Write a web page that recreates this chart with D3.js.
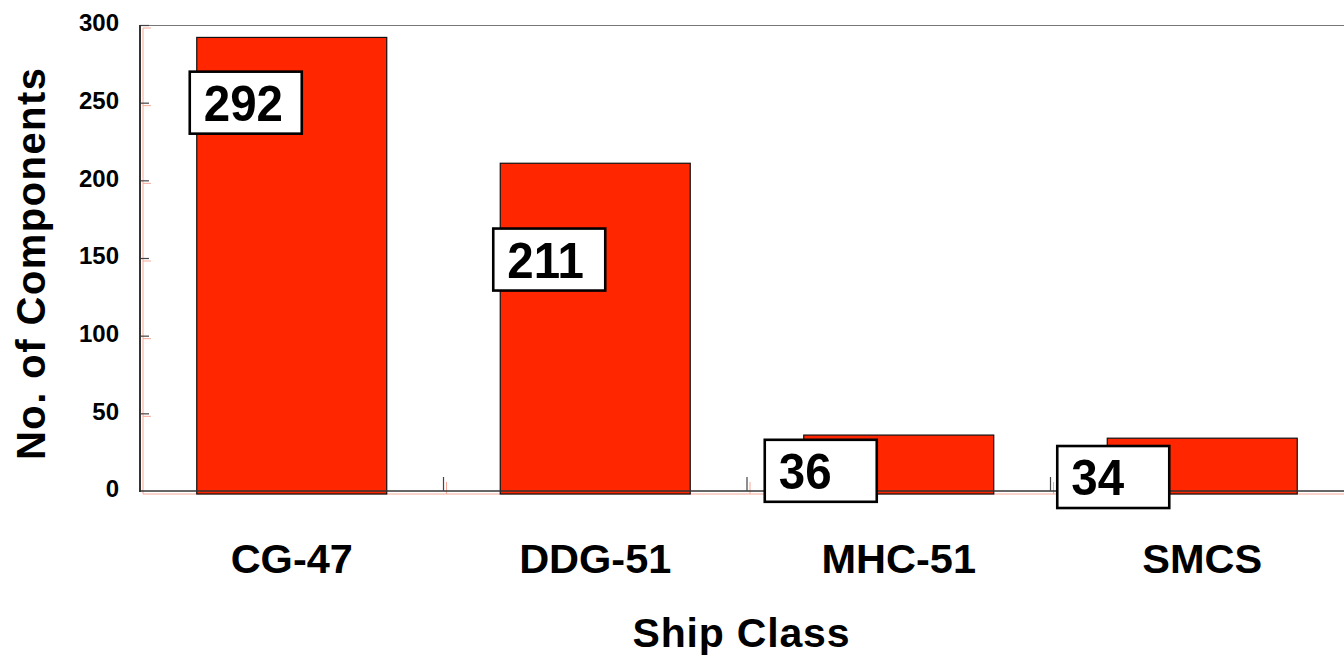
<!DOCTYPE html>
<html>
<head>
<meta charset="utf-8">
<script src="https://cdn.jsdelivr.net/npm/d3@7/dist/d3.min.js"></script>
<style>
  html, body { margin: 0; padding: 0; background: #fff; }
  svg { display: block; font-family: Arial, "Liberation Sans", Helvetica, sans-serif; }
</style>
</head>
<body>
<svg id="chart" width="1344" height="659"></svg>
<script>
// Components per ship class
const categories = ["CG-47", "DDG-51", "MHC-51", "SMCS"];
const components = [292, 211, 36, 34];
const yTicks = [0, 50, 100, 150, 200, 250, 300];
const xTitle = "Ship Class";
const yTitle = "No. of Components";

// Callout boxes: horizontal shift from the bar's left edge (px) and vertical centre (data units)
const calloutShift = [-7, -7, -39, -50];
const calloutAt = [250, 149, 13, 9];

const W = 1344, H = 659;
const plot = { left: 140, top: 25, bottom: 491, right: 1354 };
const barFill = "#ff2600";
const shadow = "#f6a898";

const svg = d3.select("#chart");

const x = d3.scaleBand()
  .domain(categories)
  .range([plot.left, plot.right])
  .paddingInner(0.374)
  .paddingOuter(0.187);

const y = d3.scaleLinear()
  .domain([0, 300])
  .range([plot.bottom, plot.top]);

// Pale offset copy of the frame (drop shadow of the axes)
const sh = svg.append("g").attr("transform", "translate(3,3)")
  .attr("stroke", shadow).attr("stroke-width", 1).attr("fill", "none");
sh.append("line").attr("x1", plot.left).attr("x2", plot.left)
  .attr("y1", plot.top).attr("y2", plot.bottom);
sh.append("line").attr("x1", plot.left).attr("x2", W)
  .attr("y1", plot.bottom).attr("y2", plot.bottom);
sh.selectAll("line.yt").data(yTicks.slice(1)).join("line").attr("class", "yt")
  .attr("x1", plot.left).attr("x2", plot.left + 8)
  .attr("y1", d => y(d)).attr("y2", d => y(d));
sh.selectAll("line.xt").data(categories.slice(1)).join("line").attr("class", "xt")
  .attr("x1", d => x(d) - x.step() * x.paddingInner() / 2)
  .attr("x2", d => x(d) - x.step() * x.paddingInner() / 2)
  .attr("y1", plot.bottom - 12).attr("y2", plot.bottom);

// Top border of the plot area
svg.append("line")
  .attr("x1", plot.left).attr("x2", W)
  .attr("y1", plot.top + 0.5).attr("y2", plot.top + 0.5)
  .attr("stroke", "#777").attr("stroke-width", 1.2);

// Bars
svg.selectAll("rect.bar").data(components).join("rect").attr("class", "bar")
  .attr("x", (d, i) => x(categories[i]))
  .attr("width", x.bandwidth())
  .attr("y", d => y(d))
  .attr("height", d => y(0) + 3 - y(d))
  .attr("fill", barFill)
  .attr("stroke", "#111").attr("stroke-width", 1.2);

// Y axis: line, inward ticks, labels
const yAxis = d3.axisLeft(y).tickValues(yTicks).tickSize(0).tickPadding(0);
const yg = svg.append("g").attr("transform", `translate(${plot.left},0)`).call(yAxis);
yg.select(".domain").remove();
yg.selectAll(".tick text")
  .attr("x", -21).attr("dy", "0.32em").attr("y", -2)
  .attr("font-size", 24).attr("font-weight", "bold")
  .attr("font-family", "Arial, 'Liberation Sans', sans-serif")
  .attr("fill", "#000");
yg.selectAll(".tick").filter(d => d > 0).append("line")
  .attr("x1", 0).attr("x2", 9).attr("y1", 0).attr("y2", 0)
  .attr("stroke", "#444").attr("stroke-width", 1.2);

svg.append("line")
  .attr("x1", plot.left).attr("x2", plot.left)
  .attr("y1", plot.top).attr("y2", plot.bottom + 1)
  .attr("stroke", "#333").attr("stroke-width", 2);

// Baseline and category separators
svg.append("line")
  .attr("x1", plot.left).attr("x2", W)
  .attr("y1", plot.bottom).attr("y2", plot.bottom)
  .attr("stroke", "#333").attr("stroke-width", 1.5);
svg.selectAll("line.sep").data(categories.slice(1)).join("line").attr("class", "sep")
  .attr("x1", d => x(d) - x.step() * x.paddingInner() / 2)
  .attr("x2", d => x(d) - x.step() * x.paddingInner() / 2)
  .attr("y1", plot.bottom - 14).attr("y2", plot.bottom)
  .attr("stroke", "#444").attr("stroke-width", 1.2);

// X category labels
svg.selectAll("text.cat").data(categories).join("text").attr("class", "cat")
  .attr("x", d => x(d) + x.bandwidth() / 2)
  .attr("y", 573)
  .attr("text-anchor", "middle")
  .attr("font-size", 41.5).attr("font-weight", "bold")
  .text(d => d);

// Value callouts
const boxW = 112, boxH = 62;
const callouts = svg.selectAll("g.callout").data(components).join("g").attr("class", "callout")
  .attr("transform", (d, i) =>
    `translate(${x(categories[i]) + calloutShift[i]},${y(calloutAt[i]) - boxH / 2})`);
callouts.append("rect")
  .attr("width", boxW).attr("height", boxH)
  .attr("fill", "#fff").attr("stroke", "#000").attr("stroke-width", 2.6);
callouts.append("text")
  .attr("transform", `translate(14,${boxH / 2 + 18}) scale(0.95,1)`)
  .attr("font-size", 50).attr("font-weight", "bold")
  .text(d => d);

// Axis titles
svg.append("text")
  .attr("x", 741).attr("y", 647)
  .attr("text-anchor", "middle")
  .attr("font-size", 41).attr("font-weight", "bold")
  .attr("textLength", 217).attr("lengthAdjust", "spacing")
  .text(xTitle);

svg.append("text")
  .attr("transform", "translate(45,264) rotate(-90)")
  .attr("text-anchor", "middle")
  .attr("font-size", 40).attr("font-weight", "bold")
  .attr("textLength", 392).attr("lengthAdjust", "spacing")
  .text(yTitle);
</script>
</body>
</html>
